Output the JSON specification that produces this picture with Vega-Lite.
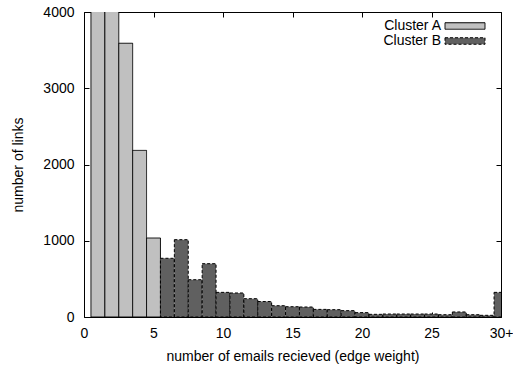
{
  "$schema": "https://vega.github.io/schema/vega-lite/v6.json",
  "width": 417,
  "height": 305,
  "autosize": {"type": "none"},
  "padding": {"left": 84, "top": 12, "right": 12, "bottom": 48},
  "background": "white",
  "config": {
    "font": "Liberation Sans",
    "view": {"stroke": "black", "strokeWidth": 1},
    "axis": {
      "grid": false,
      "domain": false,
      "labelFontSize": 14,
      "titleFontSize": 14,
      "titleFontWeight": "normal",
      "labelColor": "black",
      "titleColor": "black",
      "tickColor": "black",
      "tickSize": -5,
      "labelFont": "Liberation Sans",
      "titleFont": "Liberation Sans"
    },
    "legend": {
      "labelFont": "Liberation Sans",
      "labelFontSize": 14,
      "labelColor": "black"
    }
  },
  "data": {
    "values": [
      {"edge_weight": 1, "bin_start": 0.5, "bin_end": 1.5, "links": 5200, "cluster": "Cluster A"},
      {"edge_weight": 2, "bin_start": 1.5, "bin_end": 2.5, "links": 4400, "cluster": "Cluster A"},
      {"edge_weight": 3, "bin_start": 2.5, "bin_end": 3.5, "links": 3590, "cluster": "Cluster A"},
      {"edge_weight": 4, "bin_start": 3.5, "bin_end": 4.5, "links": 2185, "cluster": "Cluster A"},
      {"edge_weight": 5, "bin_start": 4.5, "bin_end": 5.5, "links": 1036, "cluster": "Cluster A"},
      {"edge_weight": 6, "bin_start": 5.5, "bin_end": 6.5, "links": 770, "cluster": "Cluster B"},
      {"edge_weight": 7, "bin_start": 6.5, "bin_end": 7.5, "links": 1014, "cluster": "Cluster B"},
      {"edge_weight": 8, "bin_start": 7.5, "bin_end": 8.5, "links": 489, "cluster": "Cluster B"},
      {"edge_weight": 9, "bin_start": 8.5, "bin_end": 9.5, "links": 699, "cluster": "Cluster B"},
      {"edge_weight": 10, "bin_start": 9.5, "bin_end": 10.5, "links": 323, "cluster": "Cluster B"},
      {"edge_weight": 11, "bin_start": 10.5, "bin_end": 11.5, "links": 315, "cluster": "Cluster B"},
      {"edge_weight": 12, "bin_start": 11.5, "bin_end": 12.5, "links": 240, "cluster": "Cluster B"},
      {"edge_weight": 13, "bin_start": 12.5, "bin_end": 13.5, "links": 203, "cluster": "Cluster B"},
      {"edge_weight": 14, "bin_start": 13.5, "bin_end": 14.5, "links": 148, "cluster": "Cluster B"},
      {"edge_weight": 15, "bin_start": 14.5, "bin_end": 15.5, "links": 135, "cluster": "Cluster B"},
      {"edge_weight": 16, "bin_start": 15.5, "bin_end": 16.5, "links": 131, "cluster": "Cluster B"},
      {"edge_weight": 17, "bin_start": 16.5, "bin_end": 17.5, "links": 100, "cluster": "Cluster B"},
      {"edge_weight": 18, "bin_start": 17.5, "bin_end": 18.5, "links": 96, "cluster": "Cluster B"},
      {"edge_weight": 19, "bin_start": 18.5, "bin_end": 19.5, "links": 83, "cluster": "Cluster B"},
      {"edge_weight": 20, "bin_start": 19.5, "bin_end": 20.5, "links": 57, "cluster": "Cluster B"},
      {"edge_weight": 21, "bin_start": 20.5, "bin_end": 21.5, "links": 35, "cluster": "Cluster B"},
      {"edge_weight": 22, "bin_start": 21.5, "bin_end": 22.5, "links": 39, "cluster": "Cluster B"},
      {"edge_weight": 23, "bin_start": 22.5, "bin_end": 23.5, "links": 39, "cluster": "Cluster B"},
      {"edge_weight": 24, "bin_start": 23.5, "bin_end": 24.5, "links": 39, "cluster": "Cluster B"},
      {"edge_weight": 25, "bin_start": 24.5, "bin_end": 25.5, "links": 39, "cluster": "Cluster B"},
      {"edge_weight": 26, "bin_start": 25.5, "bin_end": 26.5, "links": 30, "cluster": "Cluster B"},
      {"edge_weight": 27, "bin_start": 26.5, "bin_end": 27.5, "links": 66, "cluster": "Cluster B"},
      {"edge_weight": 28, "bin_start": 27.5, "bin_end": 28.5, "links": 30, "cluster": "Cluster B"},
      {"edge_weight": 29, "bin_start": 28.5, "bin_end": 29.5, "links": 22, "cluster": "Cluster B"},
      {"edge_weight": 30, "bin_start": 29.5, "bin_end": 30.5, "links": 323, "cluster": "Cluster B"}
    ]
  },
  "layer": [
    {
      "mark": {"type": "bar", "clip": true, "stroke": "black", "strokeWidth": 1},
      "encoding": {
        "x": {
          "field": "bin_start",
          "type": "quantitative",
          "scale": {"domain": [0, 30], "nice": false, "zero": false},
          "axis": {
            "orient": "bottom",
            "values": [0, 5, 10, 15, 20, 25, 30],
            "labelExpr": "datum.value == 30 ? '30+' : datum.label",
            "labelBaseline": "alphabetic",
            "labelPadding": 25,
            "labelFlush": false,
            "title": "number of emails recieved (edge weight)",
            "titleBaseline": "alphabetic",
            "titleY": 43
          }
        },
        "x2": {"field": "bin_end"},
        "y": {
          "field": "links",
          "type": "quantitative",
          "scale": {"domain": [0, 4000], "nice": false},
          "axis": {
            "orient": "left",
            "values": [0, 1000, 2000, 3000, 4000],
            "format": "d",
            "labelPadding": 15,
            "labelFlush": false,
            "title": "number of links",
            "titleAngle": -90,
            "titleAlign": "center",
            "titleBaseline": "middle",
            "titleX": -66,
            "titleY": 152.5
          }
        },
        "y2": {"datum": 0},
        "color": {
          "field": "cluster",
          "type": "nominal",
          "scale": {"domain": ["Cluster A", "Cluster B"], "range": ["#c0c0c0", "#606060"]},
          "legend": {
            "title": null,
            "orient": "none",
            "legendX": 374,
            "legendY": 7,
            "padding": 0,
            "rowPadding": 1,
            "symbolType": "M-4,-0.65H4V0.65H-4Z",
            "symbolSize": 100,
            "symbolStrokeColor": "black",
            "symbolStrokeWidth": 1,
            "symbolOpacity": 1,
            "labelAlign": "right",
            "labelOffset": -31,
            "encode": {
              "symbols": {"update": {"stroke": {"value": "black"}, "strokeWidth": {"value": 1}}}
            }
          }
        },
        "strokeDash": {
          "field": "cluster",
          "type": "nominal",
          "scale": {"domain": ["Cluster A", "Cluster B"], "range": [[1, 0], [3, 2]]},
          "legend": {
            "title": null,
            "orient": "none",
            "legendX": 374,
            "legendY": 7,
            "padding": 0,
            "rowPadding": 1,
            "symbolType": "M-4,-0.65H4V0.65H-4Z",
            "symbolSize": 100,
            "symbolStrokeColor": "black",
            "symbolStrokeWidth": 1,
            "symbolOpacity": 1,
            "labelAlign": "right",
            "labelOffset": -31,
            "encode": {
              "symbols": {"update": {"stroke": {"value": "black"}, "strokeWidth": {"value": 1}}}
            }
          }
        }
      }
    },
    {
      "mark": {"type": "point", "opacity": 0},
      "encoding": {
        "x": {
          "field": "edge_weight",
          "type": "quantitative",
          "scale": {"domain": [0, 30], "nice": false, "zero": false},
          "axis": {"orient": "top", "values": [0, 5, 10, 15, 20, 25, 30], "labels": false, "title": null}
        },
        "y": {
          "field": "links",
          "type": "quantitative",
          "scale": {"domain": [0, 4000], "nice": false},
          "axis": {"orient": "right", "values": [0, 1000, 2000, 3000, 4000], "labels": false, "title": null}
        }
      }
    }
  ],
  "resolve": {"axis": {"x": "independent", "y": "independent"}}
}
